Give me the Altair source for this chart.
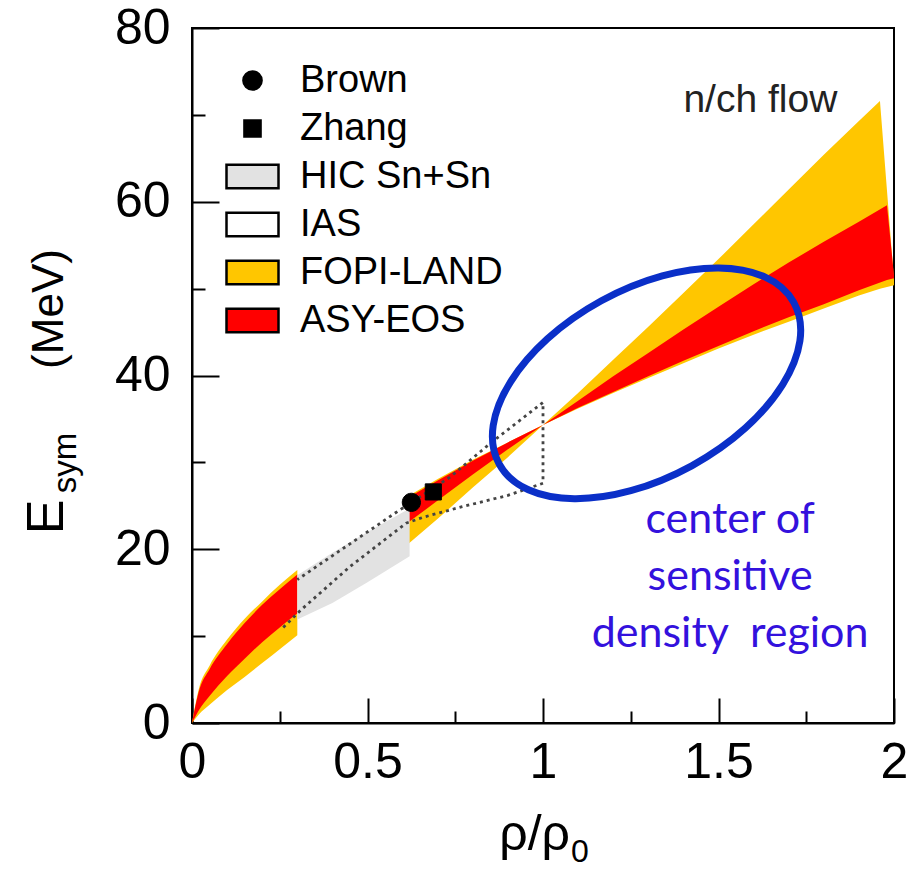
import altair as alt
import pandas as pd

FONT = "Liberation Sans"

# ---------------- data ----------------
# FOPI-LAND band (yellow), low-density piece and high-density piece
fopi1_x  = [0.0, 0.02, 0.05, 0.10, 0.15, 0.20, 0.25, 0.30]
fopi1_lo = [0.0, 1.0, 2.1, 3.8, 5.3, 6.9, 8.5, 10.1]
fopi1_hi = [0.0, 4.0, 6.6, 9.6, 12.0, 14.0, 15.9, 17.6]

fopi2_x  = [0.61, 0.70, 0.80, 0.90, 1.00, 1.10, 1.20, 1.30, 1.40, 1.50, 1.60, 1.70, 1.80, 1.90, 1.96, 2.00]
fopi2_lo = [20.4, 23.5, 27.1, 30.6, 34.3, 36.2, 38.0, 39.7, 41.4, 43.1, 44.7, 46.2, 47.7, 49.2, 50.0, 50.4]
fopi2_hi = [26.0, 28.1, 30.3, 32.3, 34.3, 38.0, 41.8, 45.6, 49.5, 53.4, 57.4, 61.4, 65.4, 69.3, 71.6, 51.0]

# ASY-EOS band (red)
asy1_x  = [0.0, 0.02, 0.05, 0.10, 0.15, 0.20, 0.25, 0.30]
asy1_lo = [0.0, 1.5, 3.1, 5.4, 7.4, 9.3, 11.0, 12.6]
asy1_hi = [0.0, 3.7, 6.2, 9.1, 11.5, 13.6, 15.4, 17.1]

asy2_x  = [0.61, 0.70, 0.80, 0.90, 1.00, 1.10, 1.20, 1.30, 1.40, 1.50, 1.60, 1.70, 1.80, 1.90, 1.98, 2.00]
asy2_lo = [22.9, 25.6, 28.6, 31.5, 34.3, 36.3, 38.1, 39.9, 41.7, 43.4, 45.1, 46.7, 48.2, 49.8, 51.0, 51.2]
asy2_hi = [25.8, 27.9, 30.2, 32.3, 34.3, 37.1, 39.9, 42.6, 45.3, 47.9, 50.5, 53.0, 55.4, 57.7, 59.6, 51.5]

# HIC Sn+Sn (grey area)
hic_x  = [0.30, 0.40, 0.50, 0.62]
hic_lo = [11.9, 13.8, 16.2, 19.2]
hic_hi = [17.0, 19.6, 22.0, 24.7]

# IAS (dashed contour)
ias_x = [0.26, 0.31, 0.45, 0.61, 0.66, 0.77, 0.90, 1.00, 1.00, 0.85, 0.735, 0.58, 0.30]
ias_y = [11.0, 13.0, 18.0, 23.0, 23.7, 24.9, 26.2, 27.6, 36.9, 32.2, 28.3, 24.2, 16.5]

# single points
pts_name = ["Brown", "Zhang"]
pts_x = [0.625, 0.6875]
pts_y = [25.4, 26.6]

# annotations
nch_label = ["n/ch flow"]
nch_x = [1.40]
nch_y = [71.7]
note_lines = ["center of", "sensitive", "density\u00a0 region"]
note_x = [1.533]
note_y = [23.4]
ellipse_x = [1.295]
ellipse_y = [39.1]

x_major = [0, 0.5, 1, 1.5, 2]
x_minor = [0.25, 0.75, 1.25, 1.75]
y_major = [0, 20, 40, 60, 80]
y_minor = [10, 30, 50, 70]

series_order = ["Brown", "Zhang", "HIC Sn+Sn", "IAS", "FOPI-LAND", "ASY-EOS"]
series_fill = ["#000000", "#000000", "#e2e2e2", "#ffffff", "#ffc600", "#ff0000"]
series_edge = ["#000000"] * 6

CIRCLE = ("M0.35,0C0.35,0.193,0.193,0.35,0,0.35C-0.193,0.35,-0.35,0.193,-0.35,0"
          "C-0.35,-0.193,-0.193,-0.35,0,-0.35C0.193,-0.35,0.35,-0.193,0.35,0Z")
SQUARE = "M-0.31,-0.31H0.31V0.31H-0.31Z"
RECT = "M-1,-0.45H1V0.45H-1Z"
ELLIPSE = ("M1,0C1,0.309,0.552,0.56,0,0.56C-0.552,0.56,-1,0.309,-1,0"
           "C-1,-0.309,-0.552,-0.56,0,-0.56C0.552,-0.56,1,-0.309,1,0Z")
series_shape = [CIRCLE, SQUARE, RECT, RECT, RECT, RECT]

# ---------------- tables ----------------
def band(xs, lo, hi, name):
    return pd.DataFrame({"x": xs, "lo": lo, "hi": hi, "series": name})

df_fopi1 = band(fopi1_x, fopi1_lo, fopi1_hi, "FOPI-LAND")
df_fopi2 = band(fopi2_x, fopi2_lo, fopi2_hi, "FOPI-LAND")
df_asy1 = band(asy1_x, asy1_lo, asy1_hi, "ASY-EOS")
df_asy2 = band(asy2_x, asy2_lo, asy2_hi, "ASY-EOS")
df_hic = band(hic_x, hic_lo, hic_hi, "HIC Sn+Sn")
df_ias = pd.DataFrame({"x": ias_x, "y": ias_y, "k": list(range(len(ias_x)))})
df_pts = pd.DataFrame({"x": pts_x, "y": pts_y, "series": pts_name})

xscale = alt.Scale(domain=[0, 2], nice=False, zero=False)
yscale = alt.Scale(domain=[0, 80], nice=False, zero=False)
fill_scale = alt.Scale(domain=series_order, range=series_fill)
shape_scale = alt.Scale(domain=series_order, range=series_shape)
edge_scale = alt.Scale(domain=series_order, range=series_edge)

legend = alt.Legend(
    title=None, orient="none", legendX=33, legendY=25, padding=0,
    labelFont=FONT, labelFontSize=38, labelColor="black", labelOffset=20,
    labelLimit=500, symbolSize=2704, symbolStrokeColor="black",
    symbolStrokeWidth=2.5, symbolOpacity=1, rowPadding=1,
)

common_axis = dict(grid=False, title=None, tickColor="black", tickWidth=2,
                   domainColor="black", domainWidth=2, labelFont=FONT,
                   labelFontSize=50, labelColor="black", labelFlush=False,
                   labelOverlap=False, labelBound=False)

x_axis_major = alt.Axis(orient="bottom", values=x_major, tickSize={"expr": "-25"},
                        labelPadding=39, format="~g", **common_axis)
x_axis_minor = alt.Axis(orient="bottom", values=x_minor, tickSize={"expr": "-12"},
                        labels=False, domain=False, grid=False, title=None,
                        tickColor="black", tickWidth=2)
y_axis_major = alt.Axis(orient="left", values=y_major, tickSize={"expr": "-27"},
                        labelPadding=49, format="d", **common_axis)
y_axis_minor = alt.Axis(orient="left", values=y_minor, tickSize={"expr": "-13"},
                        labels=False, domain=False, grid=False, title=None,
                        tickColor="black", tickWidth=2)


def area_layer(df, interp, xaxis=None, yaxis=None):
    return alt.Chart(df).mark_area(interpolate=interp, opacity=1).encode(
        x=alt.X("x:Q", scale=xscale, axis=xaxis),
        y=alt.Y("lo:Q", scale=yscale, axis=yaxis, stack=None),
        y2="hi:Q",
        fill=alt.Fill("series:N", scale=fill_scale, legend=legend),
    )


fopi1 = area_layer(df_fopi1, "monotone", x_axis_major, y_axis_major)
fopi2 = area_layer(df_fopi2, "linear", x_axis_minor, y_axis_minor)
asy1 = area_layer(df_asy1, "monotone")
asy2 = area_layer(df_asy2, "linear")
hic = area_layer(df_hic, "linear")

ias = alt.Chart(df_ias).mark_line(color="#444444", strokeWidth=2.8,
                                  strokeDash=[3, 4]).encode(
    x=alt.X("x:Q", scale=xscale, axis=None),
    y=alt.Y("y:Q", scale=yscale, axis=None),
    order="k:Q",
)

pts = alt.Chart(df_pts).mark_point(filled=True, size=2704, opacity=1,
                                   strokeWidth=1).encode(
    x=alt.X("x:Q", scale=xscale, axis=None),
    y=alt.Y("y:Q", scale=yscale, axis=None),
    fill=alt.Fill("series:N", scale=fill_scale, legend=legend),
    shape=alt.Shape("series:N", scale=shape_scale, legend=legend),
    stroke=alt.Stroke("series:N", scale=edge_scale, legend=legend),
)

ellipse = alt.Chart(pd.DataFrame({"x": ellipse_x, "y": ellipse_y})).mark_point(
    shape=ELLIPSE, filled=False, size=112896, angle=331.3,
    stroke="#0a2fc8", strokeWidth=7, opacity=1,
).encode(
    x=alt.X("x:Q", scale=xscale, axis=None),
    y=alt.Y("y:Q", scale=yscale, axis=None),
)

nch = alt.Chart(pd.DataFrame({"x": nch_x, "y": nch_y, "t": nch_label})).mark_text(
    align="left", baseline="middle", font=FONT, fontSize=39, color="#222222"
).encode(
    x=alt.X("x:Q", scale=xscale, axis=None),
    y=alt.Y("y:Q", scale=yscale, axis=None),
    text="t:N",
)

note = alt.Chart(pd.DataFrame({"x": note_x, "y": note_y, "t": [note_lines]})).mark_text(
    align="center", baseline="middle", font="Lato", fontSize=43,
    color="#3311dd", lineHeight=57,
).encode(
    x=alt.X("x:Q", scale=xscale, axis=None),
    y=alt.Y("y:Q", scale=yscale, axis=None),
    text="t",
)

# axis titles (with subscripts) as text
t_E = alt.Chart(pd.DataFrame({"t": ["E"]})).mark_text(
    angle=270, align="center", baseline="alphabetic", font=FONT, fontSize=52,
    color="black").encode(x=alt.value(-129), y=alt.value(489), text="t:N")
t_sym = alt.Chart(pd.DataFrame({"t": ["sym"]})).mark_text(
    angle=270, align="center", baseline="alphabetic", font=FONT, fontSize=33,
    color="black").encode(x=alt.value(-116), y=alt.value(435), text="t:N")
t_mev = alt.Chart(pd.DataFrame({"t": ["(MeV)"]})).mark_text(
    angle=270, align="center", baseline="alphabetic", font=FONT, fontSize=44,
    color="black").encode(x=alt.value(-129), y=alt.value(281), text="t:N")
t_rho = alt.Chart(pd.DataFrame({"t": ["\u03c1/\u03c1"]})).mark_text(
    align="right", baseline="alphabetic", font=FONT, fontSize=50,
    color="black").encode(x=alt.value(378), y=alt.value(822), text="t:N")
t_zero = alt.Chart(pd.DataFrame({"t": ["0"]})).mark_text(
    align="left", baseline="alphabetic", font=FONT, fontSize=32,
    color="black").encode(x=alt.value(379), y=alt.value(834), text="t:N")

chart = alt.layer(
    fopi1, fopi2, asy1, asy2, hic, ias, pts, ellipse, nch, note,
    t_E, t_sym, t_mev, t_rho, t_zero,
).resolve_axis(
    x="independent", y="independent"
).properties(
    width=702, height=695,
    autosize=alt.AutoSizeParams(type="none"),
    padding={"left": 192, "top": 28, "right": 20, "bottom": 161},
    background="white",
).configure_view(
    stroke="black", strokeWidth=2
)

chart.save("out.html", embed_options={"renderer": "svg", "actions": False})
